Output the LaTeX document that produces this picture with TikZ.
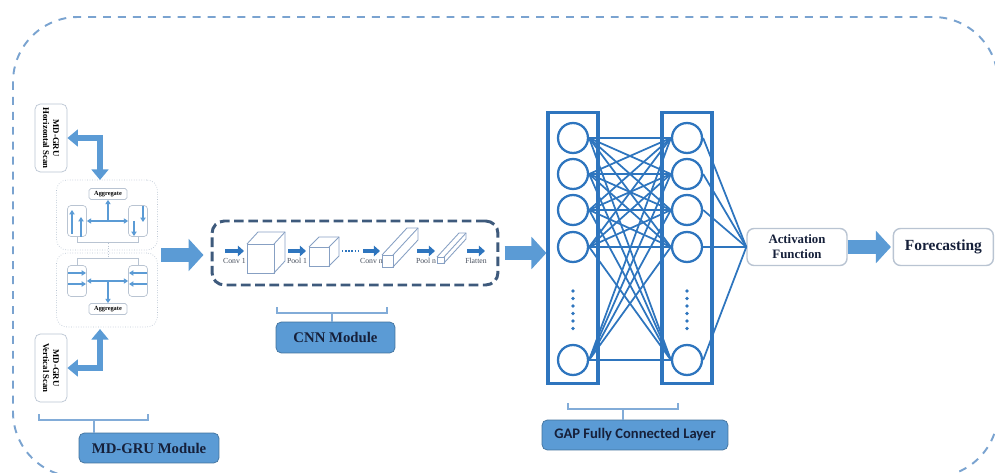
\documentclass[tikz,border=0pt]{standalone}
\usepackage{fontspec}
\setmainfont{Liberation Serif}
\newfontfamily\labelsans{Carlito}
\usepackage{tikz}
\usetikzlibrary{arrows.meta, positioning, calc}
\definecolor{steelblue}{RGB}{91,155,213}
\definecolor{tagedge}{RGB}{65,113,156}
\definecolor{netblue}{RGB}{46,117,190}
\definecolor{cnnedge}{RGB}{62,90,124}
\definecolor{frameblue}{RGB}{122,163,208}
\definecolor{softgrey}{RGB}{185,196,210}
\definecolor{inkblue}{RGB}{22,32,58}
\definecolor{cubeline}{RGB}{135,160,195}
\definecolor{captiongrey}{RGB}{70,78,92}

\begin{document}
\begin{tikzpicture}[x=0.02cm, y=-0.02cm,
        outerframe/.style={draw=frameblue, line width=1.1pt, dash pattern=on 4.5pt off 4pt, rounded corners=37pt},
        scanbox/.style={rectangle, draw=softgrey, fill=white, rounded corners=3pt, rotate=-90, minimum width=1.36cm, minimum height=0.64cm, align=center, font=\bfseries\fontsize{5}{5.6}\selectfont, inner sep=1pt},
        grubox/.style={rectangle, draw=softgrey, densely dotted, rounded corners=6pt, minimum width=2.02cm},
        cell/.style={rectangle, draw=softgrey, rounded corners=2pt, minimum width=0.38cm, minimum height=0.62cm},
        aggbox/.style={rectangle, draw=softgrey, fill=white, rounded corners=1pt, minimum width=0.76cm, minimum height=0.22cm, inner sep=0pt, font=\bfseries\fontsize{3.6}{4}\selectfont},
        tagbox/.style={rectangle, draw=tagedge, fill=steelblue, rounded corners=3pt, minimum height=0.6cm, text=inkblue, font=\bfseries\fontsize{8.4}{10}\selectfont},
        endbox/.style={rectangle, draw=softgrey, fill=white, thick, rounded corners=4pt, minimum width=2cm, minimum height=0.74cm, align=center, text=inkblue},
        layerbox/.style={rectangle, draw=netblue, line width=1.8pt, minimum width=1cm, minimum height=5.42cm},
        neuron/.style={circle, draw=netblue, line width=1.3pt, minimum size=0.6cm, inner sep=0pt},
        mesh/.style={draw=netblue, line width=1pt},
        bigarrow/.style={draw=steelblue, line width=8pt, -{Triangle[length=8.5pt, width=18pt]}},
        elbow/.style={draw=steelblue, line width=3.4pt, {Triangle[length=6pt, width=9.5pt]}-{Triangle[length=6pt, width=9.5pt]}},
        flow/.style={draw=steelblue, line width=0.9pt, -{Triangle[length=2.5pt, width=3pt]}},
        twoway/.style={draw=steelblue, line width=0.9pt, {Triangle[length=2.5pt, width=3pt]}-{Triangle[length=2.5pt, width=3pt]}},
        bracket/.style={draw=netblue!60, line width=0.6pt},
        tie/.style={draw=softgrey, line width=0.5pt},
        cnnbox/.style={rectangle, draw=cnnedge, line width=1.7pt, dash pattern=on 5.5pt off 2.6pt, rounded corners=7pt, minimum width=5.72cm, minimum height=1.28cm},
        cnnarrow/.style={draw=netblue, line width=2.2pt, -{Triangle[length=3.5pt, width=6pt]}},
        cnntext/.style={font=\fontsize{4.4}{5}\selectfont, text=captiongrey, inner sep=1pt},
        cube/.style={draw=cubeline, line width=0.5pt}
    ]
        \useasboundingbox (0,0) rectangle (995,473);
        \clip (0,0) rectangle (995,473);
        \draw [outerframe] (13,17) rectangle (998,477);

        \node [scanbox] (hscan) at (51,138) {MD-GRU\\Horizontal Scan};
        \node [scanbox] (vscan) at (51,368) {MD-GRU\\Vertical Scan};
        \node [grubox, minimum height=1.4cm] (upmod) at (107,215) {};
        \node [grubox, minimum height=1.48cm] (lowmod) at (107,290) {};
        \node [aggbox] (upagg) at (108,194) {Aggregate};
        \node [cell] (upl) at (77,221) {};
        \node [cell] (upr) at (138,221) {};
        \node [cell] (lowl) at (77,281) {};
        \node [cell] (lowr) at (138,281) {};
        \node [aggbox] (lowagg) at (108,309) {Aggregate};

        \path [twoway] (upl) -- (upr);
        \path [flow] (upl -| upagg) -- (upagg);
        \path [twoway] (lowl) -- (lowr);
        \path [flow] (lowl -| lowagg) -- (lowagg);
        \draw [flow] (72,234) -- (72,210);
        \draw [flow] (81,237) -- (81,217);
        \draw [flow] (143,206) -- (143,222);
        \draw [flow] (134,221) -- (134,236);
        \draw [flow] (68,273) -- (86,273);
        \draw [flow] (68,284) -- (86,284);
        \draw [flow] (147,273) -- (129,273);
        \draw [flow] (147,284) -- (129,284);
        \draw [tie] (upl.south) -- ++(0,6) -| (upr.south);
        \draw [tie] (lowl.north) -- ++(0,-7) -| (lowr.north);
        \draw [tie, densely dotted] (108,243) -- (108,258);

        \coordinate (upin) at (100,180);
        \coordinate (lowin) at (100,329);
        \path [elbow] (hscan.north) -| (upin);
        \path [elbow] (vscan.north) -| (lowin);

        \node [cnnbox] (cnn) at (355,253) {};
        \coordinate (gruout) at (161,255);
        \path [bigarrow, shorten >=4pt] (gruout) -- (gruout -| cnn.west);

        \foreach \x/\y/\w/\h/\dx/\dy in {247/244/27/29/11/12, 309/247/20/19/10/10, 382/255/11/12/25/27, 437/257/7/6/22/24} {
            \draw [cube] (\x,\y) rectangle ++(\w,\h);
            \draw [cube] (\x,\y) -- ++(\dx,-\dy) -- ++(\w,0) -- ++(0,\h) -- ++(-\dx,\dy);
            \draw [cube] (\x+\w,\y) -- ++(\dx,-\dy);
        }
        \draw [cnnarrow] (225,251) -- node [cnntext, below=2pt] (convone) {Conv 1} (244,251);
        \draw [cnnarrow] (288,251) -- node [cnntext, below=2pt] (poolone) {Pool 1} (306,251);
        \draw [netblue, line width=0.9pt, dash pattern=on 0.8pt off 1pt] (342,251) -- (360,251);
        \draw [cnnarrow] (363,251) -- node [cnntext, below=2pt] (convn) {Conv n} (380,251);
        \draw [cnnarrow] (417,251) -- node [cnntext, below=2pt] (pooln) {Pool n} (435,251);
        \draw [cnnarrow] (467,251) -- node [cnntext, below=2pt] (flat) {Flatten} (485,251);

        \node [layerbox] (layA) at (573,248) {};
        \node [layerbox] (layB) at (687,248) {};
        \path [bigarrow, shorten <=3pt] (cnn.east) -- (cnn.east -| layA.west);
        \foreach \y [count=\i] in {138,174,210,247,360} {
            \node [neuron] (a\i) at (573,\y) {};
            \node [neuron] (b\i) at (687,\y) {};
        }
        \foreach \k in {0,...,5} {
            \fill [netblue] (573,291+7.5*\k) circle (1pt);
            \fill [netblue] (687,291+7.5*\k) circle (1pt);
        }

        \node [endbox, font=\bfseries\fontsize{7.3}{8.4}\selectfont] (act) at (797,247) {Activation\\Function};
        \node [endbox, font=\bfseries\fontsize{8.8}{10}\selectfont, right=0.9cm of act] (fore) {Forecasting};
        \path [bigarrow, line width=7.4pt, shorten >=1pt] (act) -- (fore);

        \foreach \i in {1,...,5}
            \foreach \j in {1,...,5}
                \draw [mesh] (a\i.east) -- (b\j.west);
        \foreach \j in {1,...,5}
            \draw [mesh] (b\j.east) -- (act.west);

        \node [tagbox, minimum width=2.8cm] (grutag) at (149,448) {MD-GRU Module};
        \coordinate (grubr) at (94,420);
        \draw [bracket] (39,414) -- (39,420) -- (148,420) -- (148,414);
        \draw [bracket] (grubr) -- (grutag.north -| grubr);

        \node [tagbox, minimum width=2.38cm, minimum height=0.62cm] (cnntag) at (335.5,337.5) {CNN Module};
        \coordinate (cnnbr) at (332,313);
        \draw [bracket] (277,307) -- (277,313) -- (387,313) -- (387,307);
        \draw [bracket] (cnnbr) -- (cnntag.north -| cnnbr);

        \node [tagbox, minimum width=3.72cm, font=\labelsans\bfseries\fontsize{8.3}{10}\selectfont] (gaptag) at (635,435) {GAP Fully Connected Layer};
        \coordinate (gapbr) at (623,409);
        \draw [bracket] (568,403) -- (568,409) -- (678,409) -- (678,403);
        \draw [bracket] (gapbr) -- (gaptag.north -| gapbr);
    \end{tikzpicture}
\end{document}
